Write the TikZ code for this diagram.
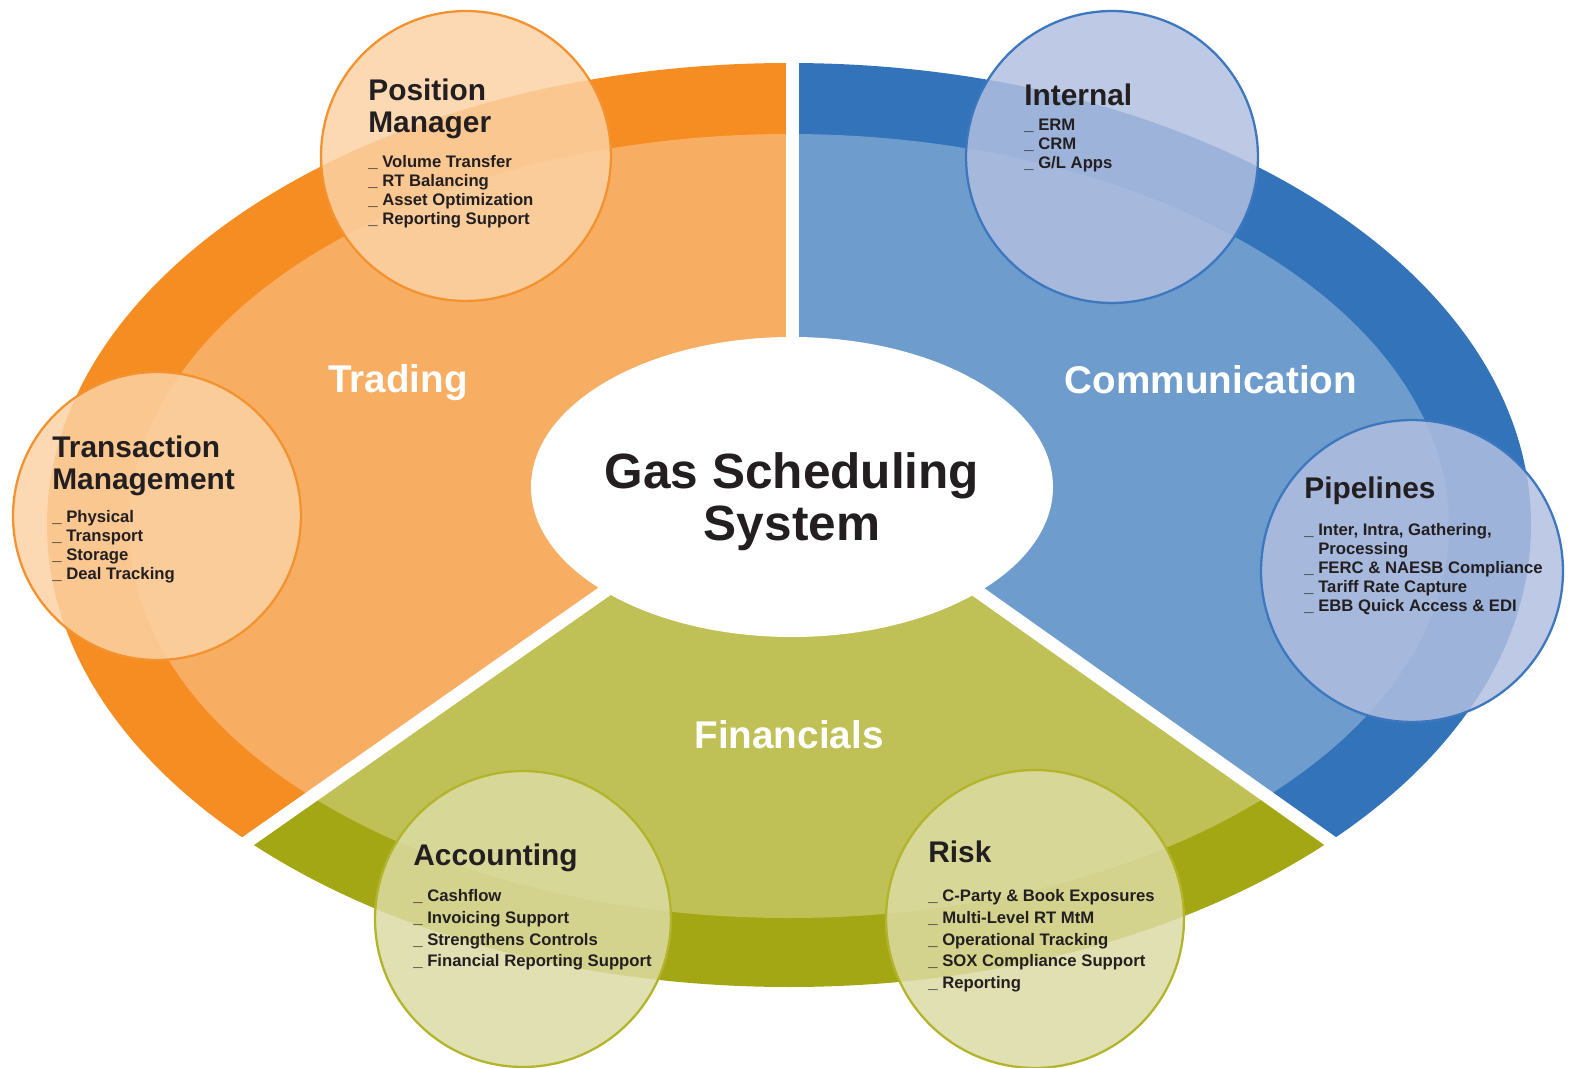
\documentclass[tikz,border=0pt]{standalone}
\usepackage{fontspec}
\setmainfont{Liberation Sans}
\usetikzlibrary{positioning}
\definecolor{tradeDark}{HTML}{F68D22}
\definecolor{tradeLight}{HTML}{F8AE62}
\definecolor{tradeBubble}{HTML}{FBD2A4}
\definecolor{tradeRim}{HTML}{F3922E}
\definecolor{commDark}{HTML}{3273BA}
\definecolor{commLight}{HTML}{6D9CCD}
\definecolor{commBubble}{HTML}{B1BFE0}
\definecolor{commRim}{HTML}{3D77BE}
\definecolor{finDark}{HTML}{A3A713}
\definecolor{finLight}{HTML}{BFC156}
\definecolor{finBubble}{HTML}{DCDBA4}
\definecolor{finRim}{HTML}{B2B42B}
\definecolor{inkText}{HTML}{231F20}

\begin{document}
\begin{tikzpicture}[
  x=0.02cm, y=-0.02cm,
  bubble/.style={
    circle, inner sep=0pt,
    draw=#1Rim, line width=1.3pt,
    fill=#1Bubble, fill opacity=0.85
  },
  bubbletitle/.style={
    anchor=north west, inner sep=0pt, align=left,
    text=inkText, font=\fontsize{17}{18.2}\selectfont\bfseries
  },
  bubblelist/.style={
    anchor=north west, inner sep=0pt, align=left,
    text=inkText, font=\fontsize{9.5}{10.8}\selectfont\bfseries
  },
  widelist/.style={
    bubblelist, font=\fontsize{9.5}{12.4}\selectfont\bfseries
  },
  sector/.style={
    anchor=base, inner sep=0pt,
    text=white, font=\fontsize{22}{24}\selectfont\bfseries
  },
  gap/.style={white, line width=0.26cm}
]
\useasboundingbox (0,0) rectangle (1570,1068);

% where the three sectors meet
\coordinate (hub) at (792,460);
\coordinate (topcut) at (792,-20);
\coordinate (leftcut) at (-20,1029);
\coordinate (rightcut) at (1590,1025);

% Trading
\begin{scope}
  \clip (hub) -- (topcut) -- (-20,-20) -- (leftcut) -- cycle;
  \fill[tradeDark] (789,525) ellipse [x radius=742, y radius=462];
  \fill[tradeLight] (789,526) ellipse [x radius=660, y radius=392];
\end{scope}
% Communication
\begin{scope}
  \clip (hub) -- (topcut) -- (1590,-20) -- (rightcut) -- cycle;
  \fill[commDark] (789,525) ellipse [x radius=742, y radius=462];
  \fill[commLight] (789,526) ellipse [x radius=660, y radius=392];
\end{scope}
% Financials
\begin{scope}
  \clip (hub) -- (leftcut) -- (-20,1090) -- (1590,1090) -- (rightcut) -- cycle;
  \fill[finDark] (789,525) ellipse [x radius=742, y radius=462];
  \fill[finLight] (789,526) ellipse [x radius=660, y radius=392];
\end{scope}

\draw[gap] (hub) -- (topcut);
\draw[gap] (hub) -- (leftcut);
\draw[gap] (hub) -- (rightcut);
\fill[white] (792,487) ellipse [x radius=261, y radius=150];

\node[sector] (trading) at (398,392) {Trading};
\node[sector] (comm) at (1211,393) {Communication};
\node[sector] (fin) at (789,748) {Financials};
\node[anchor=north, inner sep=0pt, align=center, text=inkText,
  font=\fontsize{28.2}{30}\selectfont\bfseries] (core) at (792,452) {Gas Scheduling\\System};

% bubbles
\node[bubble=trade, minimum size=5.8cm] (posmgr) at (466,156) {};
\node[bubble=trade, minimum size=5.76cm] (transmgt) at (157,516) {};
\node[bubble=comm, minimum size=5.84cm] (internal) at (1112,157) {};
\node[bubble=comm, minimum size=6.04cm] (pipelines) at (1412,571) {};
\node[bubble=fin, minimum size=5.92cm] (accounting) at (523,919) {};
\node[bubble=fin, minimum size=5.96cm] (risk) at (1035,919) {};

\node[bubbletitle] (posmgr-t) at (368,79) {Position\\Manager};
\node[bubblelist] (posmgr-l) at (368,155) {\_ Volume Transfer\\\_ RT Balancing\\\_ Asset Optimization\\\_ Reporting Support};

\node[bubbletitle] (transmgt-t) at (52,436) {Transaction\\Management};
\node[bubblelist] (transmgt-l) at (52,510) {\_ Physical\\\_ Transport\\\_ Storage\\\_ Deal Tracking};

\node[bubbletitle] (internal-t) at (1024,84) {Internal};
\node[bubblelist] (internal-l) at (1024,119) {\_ ERM\\\_ CRM\\\_ G/L Apps};

\node[bubbletitle] (pipelines-t) at (1304,477) {Pipelines};
\node[bubblelist] (pipelines-l) at (1304,523) {\_ Inter, Intra, Gathering,\\\phantom{\_ }Processing\\\_ FERC \& NAESB Compliance\\\_ Tariff Rate Capture\\\_ EBB Quick Access \& EDI};

\node[bubbletitle] (accounting-t) at (413,844) {Accounting};
\node[widelist] (accounting-l) at (413,889) {\_ Cashflow\\\_ Invoicing Support\\\_ Strengthens Controls\\\_ Financial Reporting Support};

\node[bubbletitle] (risk-t) at (928,841) {Risk};
\node[widelist] (risk-l) at (928,889) {\_ C-Party \& Book Exposures\\\_ Multi-Level RT MtM\\\_ Operational Tracking\\\_ SOX Compliance Support\\\_ Reporting};
\end{tikzpicture}
\end{document}
